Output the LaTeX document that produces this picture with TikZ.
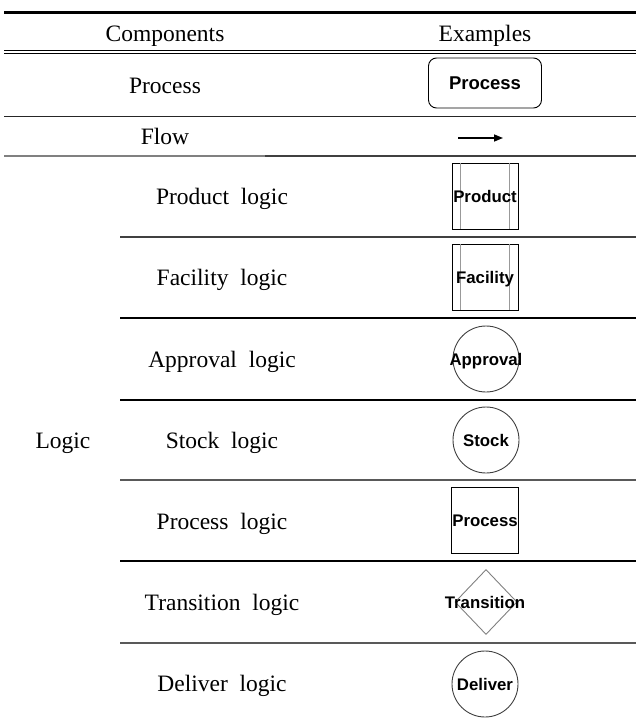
\documentclass[tikz,border=0pt]{standalone}
\usepackage{fontspec}
\setmainfont{Liberation Serif}
\newfontfamily\shapefont{Liberation Sans}
\usetikzlibrary{shapes.geometric,arrows.meta}

\begin{document}
\begin{tikzpicture}[x=1pt,y=-1pt,
  lab/.style={font=\fontsize{23.5}{23.5}\selectfont, anchor=base, inner sep=0pt},
  shptext/.style={font=\shapefont\bfseries\fontsize{16.8}{16.8}\selectfont, anchor=base, inner sep=0pt},
  rule/.style={line width=1.1pt, black!85},
  graybar/.style={draw=black!40, line width=0.9pt},
  outline/.style={draw=black, line width=0.9pt, inner sep=0pt},
  roundline/.style={draw=black!75, line width=0.9pt, inner sep=0pt},
]
\useasboundingbox (0,0) rectangle (638,720);

% ---- table rules ----
\draw[line width=3pt] (4,12) -- (636,12);
\draw[line width=1.2pt] (4,50.5) -- (636,50.5);
\draw[line width=1.2pt] (4,53.5) -- (636,53.5);
\draw[rule] (4,116.5) -- (636,116.5);
\draw[line width=2pt, black!50] (4,155.5) -- (265,155.5);
\draw[line width=2pt, black!75] (265,155.5) -- (636,155.5);
\foreach \y/\c in {237/black!75, 318/black, 400/black, 480/black!65, 561/black, 643/black!65}
  \draw[line width=1.3pt, \c] (120,\y) -- (636,\y);

% ---- header ----
\node[lab] (hcomp) at (165,41) {Components};
\node[lab] (hex) at (485,41) {Examples};

% ---- process row ----
\node[lab] (lproc) at (165,93) {Process};
\node[draw=black, line width=0.9pt, rounded corners=8pt, minimum width=113pt, minimum height=50pt, inner sep=0pt] (eproc) at (485,83) {};
\node[font=\shapefont\bfseries\fontsize{18.5}{18.5}\selectfont, anchor=base, inner sep=0pt] (eproct) at (485,89.5) {Process};

% ---- flow row ----
\node[lab] (lflow) at (165,144) {Flow};
\coordinate (fa) at (458,138);
\coordinate (fb) at (503,138);
\draw[line width=1.5pt, -{Triangle[length=9pt,width=7pt]}] (fa) -- (fb);

% ---- logic rows ----
\node[lab] (llogic) at (63,448) {Logic};
\node[lab] (lprod) at (222,204) {Product\ \ logic};
\node[lab] (lfac) at (222,285) {Facility\ \ logic};
\node[lab] (lappr) at (222,367) {Approval\ \ logic};
\node[lab] (lstock) at (222,448) {Stock\ \ logic};
\node[lab] (lplog) at (222,529) {Process\ \ logic};
\node[lab] (ltrans) at (222,610) {Transition\ \ logic};
\node[lab] (ldel) at (222,691) {Deliver\ \ logic};

% product logic: box with two inner bars
\node[outline, minimum width=66pt, minimum height=66pt] (eprod) at (485,196) {};
\draw[graybar] ([xshift=9pt]eprod.north west) -- ([xshift=9pt]eprod.south west);
\draw[graybar] ([xshift=-9pt]eprod.north east) -- ([xshift=-9pt]eprod.south east);
\node[shptext] (eprodt) at (485,202) {Product};

% facility logic
\node[outline, minimum width=66pt, minimum height=66pt] (efac) at (485,277) {};
\draw[graybar] ([xshift=9pt]efac.north west) -- ([xshift=9pt]efac.south west);
\draw[graybar] ([xshift=-9pt]efac.north east) -- ([xshift=-9pt]efac.south east);
\node[shptext] (efact) at (485,283) {Facility};

% approval logic
\node[roundline, circle, minimum size=66pt] (eappr) at (486,359) {};
\node[shptext] (eapprt) at (486,365) {Approval};

% stock logic
\node[roundline, circle, minimum size=66pt] (estock) at (486,440) {};
\node[shptext] (estockt) at (486,446) {Stock};

% process logic
\node[outline, minimum width=67pt, minimum height=66pt] (eplog) at (485,520) {};
\node[shptext] (eplogt) at (485,526) {Process};

% transition logic
\node[draw=black!50, line width=0.9pt, diamond, inner sep=0pt, minimum width=62pt, minimum height=65pt] (etrans) at (486,602) {};
\node[shptext] (etranst) at (485,608) {Transition};

% deliver logic
\node[roundline, circle, minimum size=66pt] (edel) at (485,684) {};
\node[shptext] (edelt) at (485,690) {Deliver};
\end{tikzpicture}
\end{document}
